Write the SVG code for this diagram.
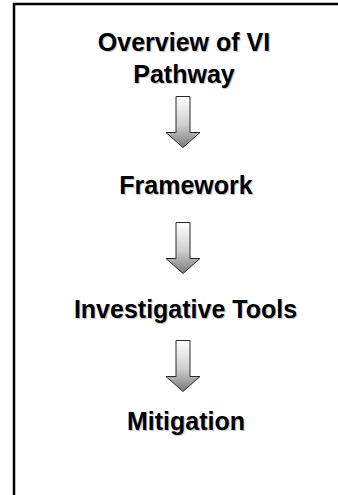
<svg xmlns="http://www.w3.org/2000/svg" width="338" height="495" viewBox="0 0 338 495">
  <defs>
    <linearGradient id="arrowFill" x1="0" y1="0" x2="0" y2="1">
      <stop offset="0" stop-color="#ffffff"/>
      <stop offset="0.55" stop-color="#cfcfcf"/>
      <stop offset="1" stop-color="#7a7a7a"/>
    </linearGradient>
    <path id="arrow" d="M -7 0 H 7 V 36 H 17 L 0 51 L -17 36 H -7 Z"/>
  </defs>
  <style>
    .frame { fill: none; stroke: #000000; stroke-width: 2.5; }
    .label { font-family: "Liberation Sans", Arial, sans-serif; font-weight: bold; font-size: 25px; text-anchor: middle; }
    .shadow { fill: #c4c4c4; }
    .ink { fill: #000000; }
    .arrow { fill: url(#arrowFill); stroke: #2a2a2a; stroke-width: 1; stroke-linejoin: miter; }
  </style>

  <rect width="338" height="495" fill="#ffffff"/>
  <!-- outer frame: only its top and left sides fall inside the page -->
  <path class="frame" d="M 340 4 H 14 V 497"/>

  <g id="overview">
    <text class="label shadow" x="185" y="51.5">Overview of VI</text>
    <text class="label shadow" x="185" y="83.5">Pathway</text>
    <text class="label ink" x="184" y="50.5">Overview of VI</text>
    <text class="label ink" x="184" y="82.5">Pathway</text>
  </g>

  <g id="framework">
    <text class="label shadow" x="187" y="195">Framework</text>
    <text class="label ink" x="186" y="194">Framework</text>
  </g>

  <g id="tools">
    <text class="label shadow" x="186.5" y="319">Investigative Tools</text>
    <text class="label ink" x="185.5" y="318">Investigative Tools</text>
  </g>

  <g id="mitigation">
    <text class="label shadow" x="187" y="431">Mitigation</text>
    <text class="label ink" x="186" y="430">Mitigation</text>
  </g>

  <g id="connectors">
    <use href="#arrow" class="arrow" transform="translate(183,96.5)"/>
    <use href="#arrow" class="arrow" transform="translate(183,222.5)"/>
    <use href="#arrow" class="arrow" transform="translate(183,340.5)"/>
  </g>
</svg>
